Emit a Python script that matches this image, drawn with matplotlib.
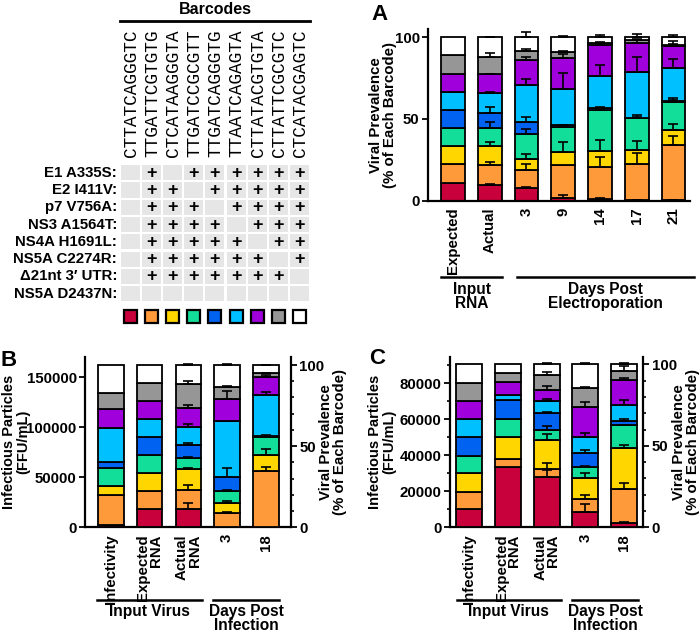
import numpy as np
import matplotlib
matplotlib.use("Agg")
import matplotlib.pyplot as plt
import matplotlib.transforms as mtransforms
from matplotlib.patches import Rectangle
from matplotlib.ticker import MultipleLocator

plt.rcParams["font.family"] = ["Liberation Sans", "DejaVu Sans"]
plt.rcParams["font.weight"] = "bold"
plt.rcParams["axes.labelweight"] = "bold"
plt.rcParams["font.size"] = 10.8

# ---- data ----
colors = ["#C8003C", "#FF9A3A", "#FFD600", "#12DE9A", "#0062F0",
          "#00C0FF", "#A000DC", "#969696", "#FFFFFF"]

barcodes = ["CTTATCAGGGTC", "TTGATTCGTGTG", "CTCATAAGGGTA", "TTGATCCGCGTT",
            "TTGATCAGGGTG", "TTAATCAGAGTA", "CTTATACGTGTA", "CTTATTCGCGTC",
            "CTCATACGAGTC"]
mutations = ["E1 A335S:", "E2 I411V:", "p7 V756A:", "NS3 A1564T:",
             "NS4A H1691L:", "NS5A C2274R:", "\u039421nt 3\u2032 UTR:",
             "NS5A D2437N:"]
# '+' marks, one string per mutation row, one char per barcode column
plus_rows = [".+.++++++",
             ".++.+++++",
             ".+++.++++",
             ".++++.+++",
             ".+++++.++",
             ".++++++.+",
             ".+++++++.",
             "........."]

# Panel A: % of each barcode (segments red..white)
a_labels = ["Expected", "Actual", "3", "9", "14", "17", "21"]
a_vals = [
    [11.1, 11.1, 11.1, 11.1, 11.1, 11.1, 11.1, 11.1, 11.2],
    [9.9, 12.1, 11.2, 11.3, 8.9, 12.6, 11.3, 10.6, 12.1],
    [7.9, 11.1, 6.7, 15.0, 7.7, 22.5, 14.9, 5.7, 8.5],
    [1.4, 20.6, 7.8, 15.5, 0.7, 22.4, 19.0, 3.5, 9.1],
    [0.8, 19.6, 9.8, 25.3, 1.0, 19.6, 19.2, 1.3, 3.4],
    [0.3, 22.4, 8.1, 19.6, 0.4, 27.9, 17.7, 1.6, 2.0],
    [0.2, 33.6, 9.5, 17.0, 0.8, 20.3, 13.5, 0.6, 4.5],
]
a_errs = [
    [0, 0, 0, 0, 0, 0, 0, 0, 0],
    [0.3, 1.6, 2.4, 3.8, 3.6, 0.3, 0.3, 2.6, 0.3],
    [0.4, 3.6, 3.0, 3.0, 2.6, 3.4, 2.0, 1.2, 3.0],
    [1.8, 0, 5.9, 0.4, 0.5, 9.7, 2.4, 0.5, 1.0],
    [0.6, 6.3, 6.7, 2.0, 0.4, 7.0, 1.0, 0.5, 1.4],
    [0.3, 6.5, 5.5, 2.0, 0.3, 9.0, 2.0, 1.0, 2.0],
    [0.3, 5.9, 3.4, 2.6, 0.3, 5.5, 3.0, 0.4, 1.6],
]

# Panel B
b_labels = ["Infectivity", "Expected\nRNA", "Actual\nRNA", "3", "18"]
b_vals = [
    [1.5, 18.4, 5.5, 10.9, 3.7, 21.0, 11.9, 9.7, 17.4],
    [11.1, 11.1, 11.1, 11.1, 11.1, 11.1, 11.1, 11.1, 11.2],
    [11.1, 11.9, 12.7, 7.2, 7.8, 11.3, 11.3, 14.8, 11.9],
    [0.2, 8.8, 6.0, 7.6, 8.2, 35.0, 13.0, 7.6, 13.6],
    [0.3, 34.4, 9.8, 11.3, 0.7, 25.0, 10.9, 2.5, 5.1],
]
b_errs = [
    [0, 0, 0, 0, 0, 0, 0, 0, 0],
    [0, 0, 0, 0, 0, 0, 0, 0, 0],
    [3.7, 3.0, 1.0, 0.6, 1.0, 1.4, 2.0, 2.0, 0.5],
    [0, 0.4, 1.0, 0.3, 6.0, 0, 5.0, 0.6, 0.5],
    [0, 2.7, 3.5, 1.0, 0, 1.6, 1.4, 0.4, 0.3],
]
b_ffu_per_pct = 1620.0
b_ffu_top = 170000

# Panel C
c_labels = ["Infectivity", "Expected\nRNA", "Actual\nRNA", "3", "18"]
c_vals = [
    [11.0, 10.8, 11.3, 10.8, 11.3, 11.2, 11.1, 11.2, 11.3],
    [37.2, 4.5, 13.9, 10.8, 11.7, 3.1, 7.8, 5.8, 5.2],
    [31.0, 4.8, 17.8, 6.1, 10.2, 7.6, 6.7, 9.2, 6.6],
    [9.6, 7.6, 12.9, 7.1, 8.6, 9.4, 18.8, 11.3, 14.7],
    [2.5, 21.0, 25.0, 14.3, 2.4, 9.8, 15.4, 5.7, 3.9],
]
c_errs = [
    [0, 0, 0, 0, 0, 0, 0, 0, 0],
    [0, 0, 0, 0, 0, 0, 0, 0, 0],
    [4.0, 3.5, 3.5, 2.5, 1.0, 1.2, 2.5, 2.0, 0.6],
    [4.5, 2.7, 3.5, 0.3, 1.6, 2.5, 2.7, 1.0, 1.0],
    [0.6, 3.5, 2.0, 0.3, 1.6, 3.0, 1.5, 3.0, 1.0],
]
c_ffu_per_pct = 905.0
c_ffu_top = 94800

W, H = 700, 633
fig = plt.figure(figsize=(7.0, 6.33), dpi=100)


def px_axes(left, top, right, bottom):
    return fig.add_axes([left / W, 1 - bottom / H, (right - left) / W, (bottom - top) / H])


def stacked(ax, vals, errs, width):
    vals = np.array(vals, dtype=float)
    errs = np.array(errs, dtype=float)
    x = np.arange(len(vals))
    bottoms = np.cumsum(vals, axis=1) - vals
    tops = bottoms + vals
    for k in range(vals.shape[1]):
        ax.bar(x, vals[:, k], width, bottom=bottoms[:, k], color=colors[k],
               edgecolor="black", linewidth=1.3, zorder=2)
    for k in range(vals.shape[1]):
        m = errs[:, k] > 0
        if m.any():
            ax.errorbar(x[m], tops[m, k], yerr=[np.zeros(m.sum()), errs[m, k]],
                        fmt="none", ecolor="black", elinewidth=1.2, capsize=3.5,
                        capthick=1.2, zorder=3)
    return x


def groups(ax, spans, names, y_line, y_text):
    tr = mtransforms.blended_transform_factory(ax.transData, ax.transAxes)
    for (x0, x1), name in zip(spans, names):
        ax.plot([x0, x1], [y_line, y_line], color="black", lw=1.8,
                transform=tr, clip_on=False)
        ax.text((x0 + x1) / 2, y_text, name, transform=tr, ha="center", va="top",
                fontsize=11.2, linespacing=0.92)


def style(ax):
    ax.tick_params(axis="y", direction="out", length=4, width=1.3, pad=2)
    ax.tick_params(axis="y", which="minor", direction="out", length=2.5, width=1.2)
    ax.tick_params(axis="x", length=0, pad=5)
    for s in ax.spines.values():
        s.set_linewidth(1.6)
    ax.spines["top"].set_visible(False)


# ---- barcode table ----
ax0 = fig.add_axes([0, 0, 1, 1])
ax0.set_xlim(0, W)
ax0.set_ylim(H, 0)
ax0.axis("off")

col_x = 130.5 + 21.1 * np.arange(len(barcodes))
row_y = 172.7 + 17.3 * np.arange(len(mutations))

ax0.text(215, 9, "Barcodes", ha="center", va="center", fontsize=11.5)
ax0.plot([120, 310], [21, 21], color="black", lw=2)
for cx, code in zip(col_x, barcodes):
    ax0.text(cx + 1, 157, code, rotation=90, ha="center", va="bottom",
             family="Liberation Mono", fontweight="normal", fontsize=12.8)
for i, (ry, name) in enumerate(zip(row_y, mutations)):
    ax0.text(117, ry, name, ha="right", va="center", fontsize=10.8)
    for j, cx in enumerate(col_x):
        ax0.add_patch(Rectangle((cx - 9.5, ry - 7.6), 19, 15.2,
                                facecolor="#E6E6E6", edgecolor="none"))
        if plus_rows[i][j] == "+":
            ax0.text(cx, ry + 0.5, "+", ha="center", va="center", fontsize=13)
for cx, c in zip(col_x, colors):
    ax0.add_patch(Rectangle((cx - 6.5, 309.5), 13, 13, facecolor=c,
                            edgecolor="black", linewidth=1.6))

ax0.text(380, 14, "A", ha="center", va="center", fontsize=16)
ax0.text(9, 360, "B", ha="center", va="center", fontsize=16)
ax0.text(377, 359, "C", ha="center", va="center", fontsize=16)

# ---- panel A ----
axA = px_axes(428, 29, 690, 200.7)
stacked(axA, a_vals, a_errs, 0.65)
axA.set_xlim(-0.68, 6.45)
axA.set_ylim(0, 105)
axA.set_yticks([0, 50, 100])
axA.set_xticks(np.arange(len(a_labels)))
axA.set_xticklabels(a_labels, rotation=90)
axA.spines["right"].set_visible(False)
style(axA)
axA.set_ylabel("Viral Prevalence\n(% of Each Barcode)", linespacing=1.0)
axA.yaxis.set_label_coords(-0.118, 0.5)
groups(axA, [(-0.32, 1.34), (1.74, 6.55)],
       ["Input\nRNA", "Days Post\nElectroporation"], -0.443, -0.475)

# ---- panel B ----
axB = px_axes(85, 357, 291, 527.3)
axBr = axB.twinx()
stacked(axBr, b_vals, b_errs, 0.66)
axB.set_xlim(-0.67, 4.65)
axB.set_ylim(0, b_ffu_top)
axBr.set_ylim(0, b_ffu_top / b_ffu_per_pct)
axB.set_yticks([0, 50000, 100000, 150000])
axBr.set_yticks([0, 50, 100])
axBr.yaxis.set_minor_locator(MultipleLocator(10))
axB.set_xticks(np.arange(len(b_labels)))
axB.set_xticklabels(b_labels, rotation=90, multialignment="right", linespacing=0.9)
style(axB)
style(axBr)
for s in ["left", "bottom"]:
    axBr.spines[s].set_visible(False)
axB.spines["right"].set_visible(False)
axB.set_ylabel("Infectious Particles\n(FFU/mL)", linespacing=1.0, fontsize=10.5)
axB.yaxis.set_label_coords(-0.265, 0.5)
axBr.set_ylabel("Viral Prevalence\n(% of Each Barcode)", linespacing=1.0)
axBr.yaxis.set_label_coords(1.135, 0.5)
groups(axB, [(-0.37, 2.34), (2.64, 4.35)],
       ["Input Virus", "Days Post\nInfection"], -0.427, -0.452)

# ---- panel C ----
axC = px_axes(450, 356.7, 643.3, 527.3)
axCr = axC.twinx()
stacked(axCr, c_vals, c_errs, 0.67)
axC.set_xlim(-0.5, 4.5)
axC.set_ylim(0, c_ffu_top)
axCr.set_ylim(0, c_ffu_top / c_ffu_per_pct)
axC.set_yticks([0, 20000, 40000, 60000, 80000])
axC.yaxis.set_minor_locator(MultipleLocator(10000))
axCr.set_yticks([0, 50, 100])
axCr.yaxis.set_minor_locator(MultipleLocator(10))
axC.set_xticks(np.arange(len(c_labels)))
axC.set_xticklabels(c_labels, rotation=90, multialignment="right", linespacing=0.9)
style(axC)
style(axCr)
for s in ["left", "bottom"]:
    axCr.spines[s].set_visible(False)
axC.spines["right"].set_visible(False)
axC.set_ylabel("Infectious Particles\n(FFU/mL)", linespacing=1.0, fontsize=10.5)
axC.yaxis.set_label_coords(-0.28, 0.5)
axCr.set_ylabel("Viral Prevalence\n(% of Each Barcode)", linespacing=1.0)
axCr.yaxis.set_label_coords(1.15, 0.5)
groups(axC, [(-0.33, 2.36), (2.65, 4.37)],
       ["Input Virus", "Days Post\nInfection"], -0.427, -0.452)

fig.savefig("out.png", dpi=100)
